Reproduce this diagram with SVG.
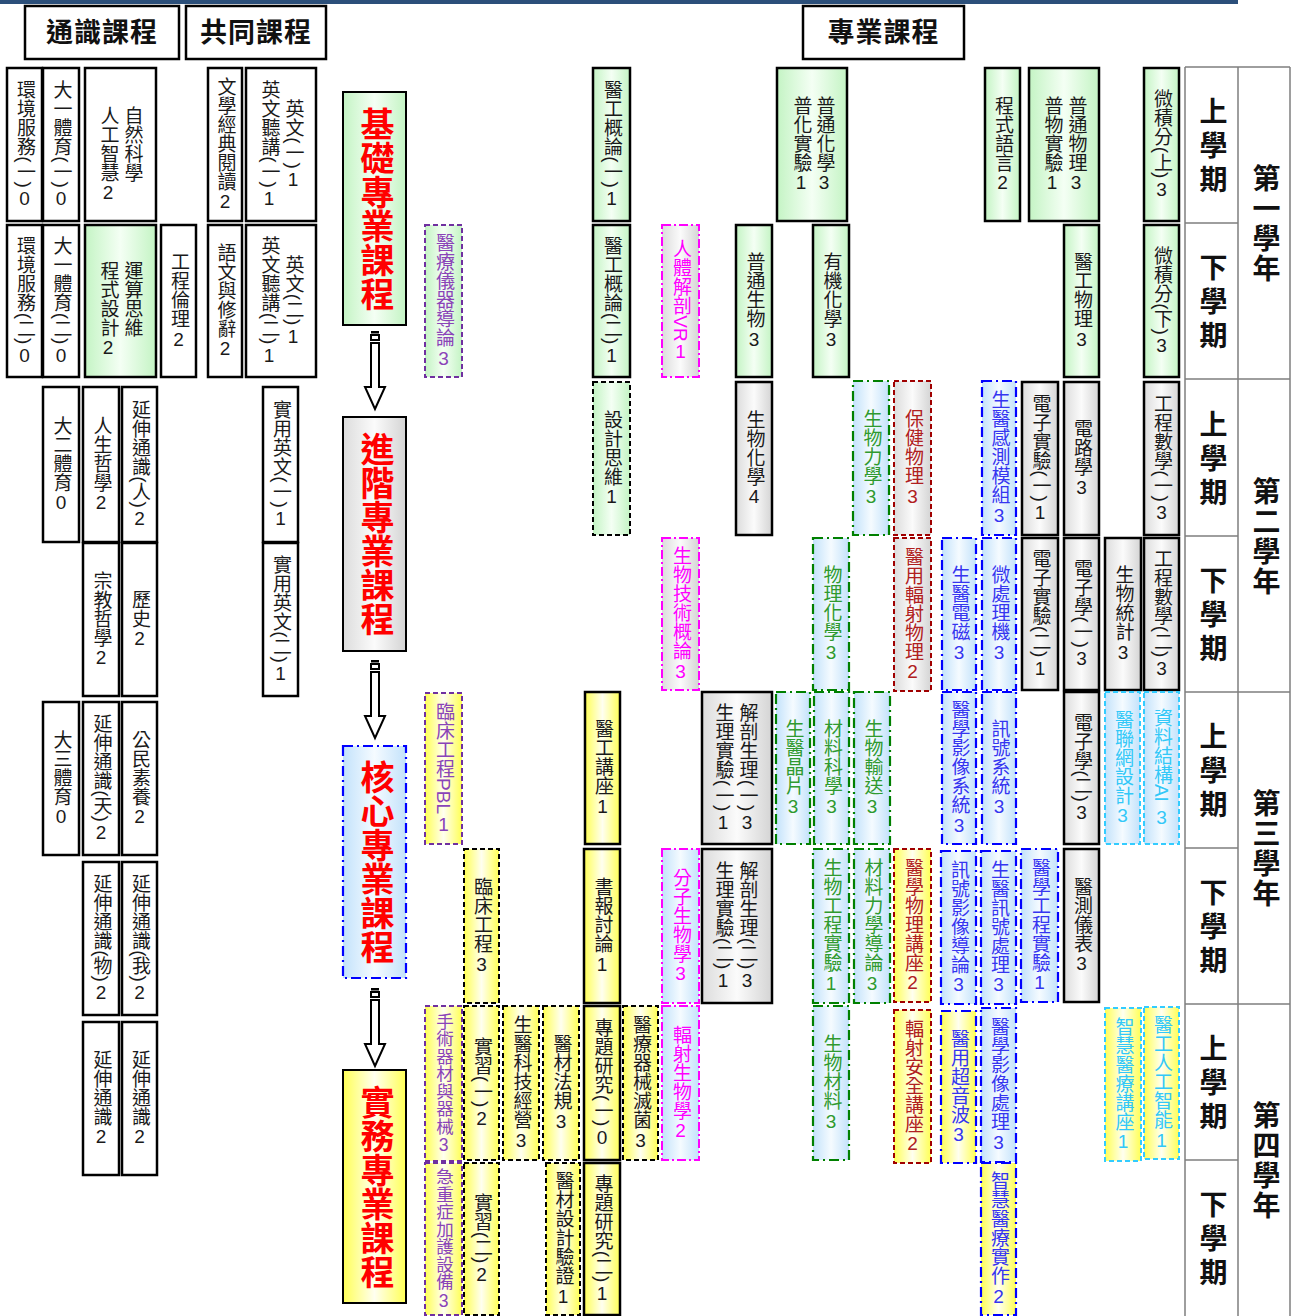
<svg xmlns="http://www.w3.org/2000/svg" width="1297" height="1316" viewBox="0 0 1297 1316">
<defs>
<linearGradient id="gG" x1="0" x2="1" y1="0" y2="0"><stop offset="0" stop-color="#c4f4c4"/><stop offset="0.5" stop-color="#f4fff4"/><stop offset="1" stop-color="#c4f4c4"/></linearGradient>
<linearGradient id="gY" x1="0" x2="1" y1="0" y2="0"><stop offset="0" stop-color="#ffff55"/><stop offset="0.5" stop-color="#fffff0"/><stop offset="1" stop-color="#ffff55"/></linearGradient>
<linearGradient id="gB" x1="0" x2="1" y1="0" y2="0"><stop offset="0" stop-color="#c3e2fb"/><stop offset="0.5" stop-color="#f5fbff"/><stop offset="1" stop-color="#c3e2fb"/></linearGradient>
<linearGradient id="gS" x1="0" x2="1" y1="0" y2="0"><stop offset="0" stop-color="#dcdcdc"/><stop offset="0.5" stop-color="#fbfbfb"/><stop offset="1" stop-color="#d4d4d4"/></linearGradient>
<style>
rect{stroke-width:2}
.k{stroke:#000;stroke-width:2.5}
.kd{stroke:#000;stroke-dasharray:5 3}
.pd{stroke:#7030a0;stroke-dasharray:5 3}
.md{stroke:#ff00ff;stroke-dasharray:9 3 2 3}
.gd{stroke:#008000;stroke-dasharray:10 4 2 4;stroke-width:2.2}
.bd{stroke:#0000ff;stroke-dasharray:10 4 2 4;stroke-width:2.2}
.rd{stroke:#a00000;stroke-dasharray:5 3}
.cd{stroke:#33ccff;stroke-dasharray:5 3}
.fw{fill:#fff}.fg{fill:url(#gG)}.fy{fill:url(#gY)}.fb{fill:url(#gB)}.fs{fill:url(#gS)}
.t{font-family:"Liberation Sans","Noto Sans CJK TC",sans-serif;font-size:19px;writing-mode:vertical-rl;text-anchor:middle;fill:#1a1a1a}
.s{text-anchor:start}
.sm{font-size:17.5px}
.u{text-orientation:upright}
.tp{fill:#8a44b8}.tm{fill:#ff00ff}.tg{fill:#2f9a2f}.tr{fill:#b02020}.tb{fill:#3535f0}.tc{fill:#33c8f8}
.cat{font-family:"Liberation Sans","Noto Sans CJK TC",sans-serif;font-size:34px;font-weight:bold;writing-mode:vertical-rl;text-anchor:middle;fill:#ff0000}
.hd{font-family:"Liberation Sans","Noto Sans CJK TC",sans-serif;font-size:27px;font-weight:bold;text-anchor:middle;fill:#111;letter-spacing:1px}
.sem{font-family:"Liberation Sans","Noto Sans CJK TC",sans-serif;font-size:28px;font-weight:bold;writing-mode:vertical-rl;text-anchor:middle;fill:#111;letter-spacing:6px}
.yr{font-family:"Liberation Sans","Noto Sans CJK TC",sans-serif;font-size:28px;font-weight:bold;writing-mode:vertical-rl;text-anchor:middle;fill:#111;letter-spacing:2px}
.gl{stroke:#7f7f7f;stroke-width:1.5;fill:none}
.arr{fill:#fff;stroke:#000;stroke-width:2}
</style>
</defs>
<rect x="0" y="0" width="1238" height="4" fill="#2b4f7a" stroke="none"/>

<g id="headers">
<g id="h-general"><rect class="k fw" x="25" y="6" width="154" height="53"/><text class="hd" x="102" y="42">通識課程</text></g>
<g id="h-common"><rect class="k fw" x="186" y="6" width="140" height="53"/><text class="hd" x="256" y="42">共同課程</text></g>
<g id="h-major"><rect class="k fw" x="803" y="6" width="161" height="53"/><text class="hd" x="883.5" y="42">專業課程</text></g>
</g>

<g id="semester-table">
<path class="gl" d="M1185,67 H1290 M1185,67 V1316 M1238,67 V1316 M1290,67 V1316 M1185,223 H1238 M1185,379 H1290 M1185,536 H1238 M1185,692 H1290 M1185,848 H1238 M1185,1004 H1290 M1185,1160 H1238"/>
<text class="sem" x="1211" y="148">上學期</text>
<text class="sem" x="1211" y="304">下學期</text>
<text class="sem" x="1211" y="461">上學期</text>
<text class="sem" x="1211" y="617">下學期</text>
<text class="sem" x="1211" y="773">上學期</text>
<text class="sem" x="1211" y="929">下學期</text>
<text class="sem" x="1211" y="1085">上學期</text>
<text class="sem" x="1211" y="1241">下學期</text>
<text class="yr" x="1264" y="224">第一學年</text>
<text class="yr" x="1264" y="537">第二學年</text>
<text class="yr" x="1264" y="849">第三學年</text>
<text class="yr" x="1264" y="1161">第四學年</text>
</g>

<g id="categories">
<g id="cat-basic"><rect class="fg" x="343" y="92" width="63" height="233" stroke="#000" stroke-width="3"/><text class="cat" x="375" y="209">基礎專業課程</text></g>
<g id="cat-advanced"><rect class="fs" x="343" y="417" width="63" height="234" stroke="#000" stroke-width="3"/><text class="cat" x="375" y="534">進階專業課程</text></g>
<g id="cat-core"><rect class="fb bd" x="343" y="746" width="63" height="232" stroke-width="2.5"/><text class="cat" x="375" y="862">核心專業課程</text></g>
<g id="cat-practice"><rect class="fy" x="343" y="1070" width="63" height="233" stroke="#000" stroke-width="3"/><text class="cat" x="375" y="1187">實務專業課程</text></g>
</g>

<g id="connectors">
<g id="arrow1"><rect x="371" y="331" width="8" height="2.5" fill="#000" stroke="none"/><rect class="arr" x="371" y="335" width="8" height="5"/><path class="arr" d="M371,343 V387 H365 L375,409 L385,387 H379 V343 Z"/></g>
<g id="arrow2"><rect x="371" y="660" width="8" height="2.5" fill="#000" stroke="none"/><rect class="arr" x="371" y="664" width="8" height="5"/><path class="arr" d="M371,672 V716 H365 L375,738 L385,716 H379 V672 Z"/></g>
<g id="arrow3"><rect x="371" y="988" width="8" height="2.5" fill="#000" stroke="none"/><rect class="arr" x="371" y="992" width="8" height="5"/><path class="arr" d="M371,1000 V1044 H365 L375,1066 L385,1044 H379 V1000 Z"/></g>
</g>

<g id="year1-upper">
<g id="c-env1"><rect class="k fw" x="7" y="68" width="35" height="153"/><text class="t" x="24.5" y="144.5">環境服務(一)<tspan class="u">0</tspan></text></g>
<g id="c-pe1a"><rect class="k fw" x="43" y="68" width="36" height="153"/><text class="t" x="61" y="144.5">大一體育(一)<tspan class="u">0</tspan></text></g>
<g id="c-natsci"><rect class="k fw" x="85" y="68" width="71" height="153"/><text class="t s" x="132" y="106">自然科學</text><text class="t s" x="108" y="106">人工智慧<tspan class="u">2</tspan></text></g>
<g id="c-lit"><rect class="k fw" x="208" y="68" width="34" height="153"/><text class="t" x="225" y="144.5">文學經典閱讀<tspan class="u">2</tspan></text></g>
<g id="c-eng1"><rect class="k fw" x="246" y="68" width="70" height="153"/><text class="t" x="293" y="144.5">英文(一)<tspan class="u">1</tspan></text><text class="t" x="269" y="144.5">英文聽講(一)<tspan class="u">1</tspan></text></g>
<g id="c-bme1"><rect class="k fg" x="593" y="68" width="37" height="153"/><text class="t" x="611.5" y="144.5">醫工概論(一)<tspan class="u">1</tspan></text></g>
<g id="c-chem"><rect class="k fg" x="777" y="68" width="70" height="153"/><text class="t" x="824" y="144.5">普通化學<tspan class="u">3</tspan></text><text class="t" x="801" y="144.5">普化實驗<tspan class="u">1</tspan></text></g>
<g id="c-prog"><rect class="k fg" x="985" y="68" width="35" height="153"/><text class="t" x="1002.5" y="144.5">程式語言<tspan class="u">2</tspan></text></g>
<g id="c-phys"><rect class="k fg" x="1029" y="68" width="70" height="153"/><text class="t" x="1076" y="144.5">普通物理<tspan class="u">3</tspan></text><text class="t" x="1052" y="144.5">普物實驗<tspan class="u">1</tspan></text></g>
<g id="c-calc1"><rect class="k fg" x="1144" y="68" width="35" height="153"/><text class="t" x="1161.5" y="144.5">微積分(上)<tspan class="u">3</tspan></text></g>
</g>

<g id="year1-lower">
<g id="c-env2"><rect class="k fw" x="7" y="225" width="35" height="152"/><text class="t" x="24.5" y="301">環境服務(二)<tspan class="u">0</tspan></text></g>
<g id="c-pe1b"><rect class="k fw" x="43" y="225" width="36" height="152"/><text class="t" x="61" y="301">大一體育(二)<tspan class="u">0</tspan></text></g>
<g id="c-ct"><rect class="k fg" x="85" y="225" width="71" height="152"/><text class="t s" x="132" y="261">運算思維</text><text class="t s" x="108" y="261">程式設計<tspan class="u">2</tspan></text></g>
<g id="c-ethic"><rect class="k fw" x="161" y="225" width="35" height="152"/><text class="t" x="178.5" y="301">工程倫理<tspan class="u">2</tspan></text></g>
<g id="c-rhet"><rect class="k fw" x="208" y="225" width="34" height="152"/><text class="t" x="225" y="301">語文與修辭<tspan class="u">2</tspan></text></g>
<g id="c-eng2"><rect class="k fw" x="246" y="225" width="70" height="152"/><text class="t" x="293" y="301">英文(二)<tspan class="u">1</tspan></text><text class="t" x="269" y="301">英文聽講(二)<tspan class="u">1</tspan></text></g>
<g id="c-medinst"><rect class="pd fg" x="425" y="225" width="37" height="152"/><text class="t tp" x="443.5" y="301">醫療儀器導論<tspan class="u">3</tspan></text></g>
<g id="c-bme2"><rect class="k fg" x="593" y="225" width="37" height="152"/><text class="t" x="611.5" y="301">醫工概論(二)<tspan class="u">1</tspan></text></g>
<g id="c-vr"><rect class="md fs" x="662" y="225" width="37" height="152"/><text class="t tm" x="680.5" y="301">人體解剖VR<tspan class="u">1</tspan></text></g>
<g id="c-bio"><rect class="k fg" x="736" y="225" width="36" height="152"/><text class="t" x="754" y="301">普通生物<tspan class="u">3</tspan></text></g>
<g id="c-orgchem"><rect class="k fg" x="813" y="225" width="36" height="152"/><text class="t" x="831" y="301">有機化學<tspan class="u">3</tspan></text></g>
<g id="c-bmephys"><rect class="k fg" x="1064" y="225" width="35" height="152"/><text class="t" x="1081.5" y="301">醫工物理<tspan class="u">3</tspan></text></g>
<g id="c-calc2"><rect class="k fg" x="1144" y="225" width="35" height="152"/><text class="t" x="1161.5" y="301">微積分(下)<tspan class="u">3</tspan></text></g>
</g>

<g id="year2-upper">
<g id="c-pe2"><rect class="k fw" x="43" y="387" width="36" height="155"/><text class="t" x="61" y="464.5">大二體育<tspan class="u">0</tspan></text></g>
<g id="c-philo"><rect class="k fw" x="83" y="387" width="36" height="155"/><text class="t" x="101" y="464.5">人生哲學<tspan class="u">2</tspan></text></g>
<g id="c-ext-ren"><rect class="k fw" x="122" y="387" width="35" height="155"/><text class="t" x="139.5" y="464.5">延伸通識(人)<tspan class="u">2</tspan></text></g>
<g id="c-peng1"><rect class="k fw" x="263" y="387" width="35" height="155"/><text class="t" x="280.5" y="464.5">實用英文(一)<tspan class="u">1</tspan></text></g>
<g id="c-design"><rect class="kd fg" x="593" y="382" width="37" height="153"/><text class="t" x="611.5" y="458.5">設計思維<tspan class="u">1</tspan></text></g>
<g id="c-biochem"><rect class="k fs" x="736" y="382" width="36" height="153"/><text class="t" x="754" y="458.5">生物化學<tspan class="u">4</tspan></text></g>
<g id="c-biomech"><rect class="gd fb" x="853" y="381" width="36" height="154"/><text class="t tg" x="871" y="458">生物力學<tspan class="u">3</tspan></text></g>
<g id="c-healthphys"><rect class="rd fs" x="894" y="381" width="37" height="154"/><text class="t tr" x="912.5" y="458">保健物理<tspan class="u">3</tspan></text></g>
<g id="c-sensor"><rect class="bd fb" x="982" y="381" width="34" height="154"/><text class="t tb" x="999" y="458">生醫感測模組<tspan class="u">3</tspan></text></g>
<g id="c-elab1"><rect class="k fs" x="1022" y="382" width="36" height="153"/><text class="t" x="1040" y="458.5">電子實驗(一)<tspan class="u">1</tspan></text></g>
<g id="c-circuit"><rect class="k fs" x="1064" y="382" width="35" height="153"/><text class="t" x="1081.5" y="458.5">電路學<tspan class="u">3</tspan></text></g>
<g id="c-engmath1"><rect class="k fs" x="1144" y="382" width="35" height="153"/><text class="t" x="1161.5" y="458.5">工程數學(一)<tspan class="u">3</tspan></text></g>
</g>

<g id="year2-lower">
<g id="c-relig"><rect class="k fw" x="83" y="543" width="36" height="153"/><text class="t" x="101" y="619.5">宗教哲學<tspan class="u">2</tspan></text></g>
<g id="c-hist"><rect class="k fw" x="122" y="543" width="35" height="153"/><text class="t" x="139.5" y="619.5">歷史<tspan class="u">2</tspan></text></g>
<g id="c-peng2"><rect class="k fw" x="263" y="543" width="35" height="153"/><text class="t" x="280.5" y="619.5">實用英文(二)<tspan class="u">1</tspan></text></g>
<g id="c-biotech"><rect class="md fs" x="662" y="538" width="37" height="152"/><text class="t tm" x="680.5" y="614">生物技術概論<tspan class="u">3</tspan></text></g>
<g id="c-physchem"><rect class="gd fb" x="813" y="538" width="36" height="152"/><text class="t tg" x="831" y="614">物理化學<tspan class="u">3</tspan></text></g>
<g id="c-radphys"><rect class="rd fs" x="894" y="538" width="37" height="153"/><text class="t tr" x="912.5" y="614.5">醫用輻射物理<tspan class="u">2</tspan></text></g>
<g id="c-em"><rect class="bd fb" x="942" y="538" width="34" height="152"/><text class="t tb" x="959" y="614">生醫電磁<tspan class="u">3</tspan></text></g>
<g id="c-micro"><rect class="bd fb" x="982" y="538" width="34" height="152"/><text class="t tb" x="999" y="614">微處理機<tspan class="u">3</tspan></text></g>
<g id="c-elab2"><rect class="k fs" x="1022" y="538" width="36" height="152"/><text class="t" x="1040" y="614">電子實驗(二)<tspan class="u">1</tspan></text></g>
<g id="c-elec1"><rect class="k fs" x="1064" y="538" width="35" height="152"/><text class="t" x="1081.5" y="614">電子學(一)<tspan class="u">3</tspan></text></g>
<g id="c-biostat"><rect class="k fs" x="1105" y="538" width="36" height="152"/><text class="t" x="1123" y="614">生物統計<tspan class="u">3</tspan></text></g>
<g id="c-engmath2"><rect class="k fs" x="1144" y="538" width="35" height="152"/><text class="t" x="1161.5" y="614">工程數學(二)<tspan class="u">3</tspan></text></g>
</g>

<g id="year3-upper">
<g id="c-pe3"><rect class="k fw" x="43" y="702" width="36" height="153"/><text class="t" x="61" y="778.5">大三體育<tspan class="u">0</tspan></text></g>
<g id="c-ext-tian"><rect class="k fw" x="83" y="702" width="36" height="153"/><text class="t" x="101" y="778.5">延伸通識(天)<tspan class="u">2</tspan></text></g>
<g id="c-civic"><rect class="k fw" x="122" y="702" width="35" height="153"/><text class="t" x="139.5" y="778.5">公民素養<tspan class="u">2</tspan></text></g>
<g id="c-pbl"><rect class="pd fy" x="425" y="693" width="37" height="151"/><text class="t tp" x="443.5" y="768.5">臨床工程PBL<tspan class="u">1</tspan></text></g>
<g id="c-seminar"><rect class="k fy" x="585" y="692" width="35" height="152"/><text class="t" x="602.5" y="768">醫工講座<tspan class="u">1</tspan></text></g>
<g id="c-anat1"><rect class="k fs" x="702" y="692" width="70" height="152"/><text class="t" x="747" y="768">解剖生理(一)<tspan class="u">3</tspan></text><text class="t" x="723" y="768">生理實驗(一)<tspan class="u">1</tspan></text></g>
<g id="c-chip"><rect class="gd fb" x="776" y="692" width="34" height="152"/><text class="t tg" x="793" y="768">生醫晶片<tspan class="u">3</tspan></text></g>
<g id="c-matsci"><rect class="gd fb" x="814" y="692" width="35" height="152"/><text class="t tg" x="831.5" y="768">材料科學<tspan class="u">3</tspan></text></g>
<g id="c-transport"><rect class="gd fb" x="854" y="692" width="36" height="152"/><text class="t tg" x="872" y="768">生物輸送<tspan class="u">3</tspan></text></g>
<g id="c-imgsys"><rect class="bd fb" x="942" y="692" width="34" height="152"/><text class="t tb" x="959" y="768">醫學影像系統<tspan class="u">3</tspan></text></g>
<g id="c-sigsys"><rect class="bd fb" x="982" y="692" width="34" height="152"/><text class="t tb" x="999" y="768">訊號系統<tspan class="u">3</tspan></text></g>
<g id="c-elec2"><rect class="k fs" x="1064" y="692" width="35" height="152"/><text class="t" x="1081.5" y="768">電子學(二)<tspan class="u">3</tspan></text></g>
<g id="c-iomt"><rect class="cd fb" x="1105" y="692" width="35" height="152"/><text class="t tc" x="1122.5" y="768">醫聯網設計<tspan class="u">3</tspan></text></g>
<g id="c-dsai"><rect class="cd fb" x="1144" y="692" width="35" height="152"/><text class="t tc" x="1161.5" y="768">資料結構AI <tspan class="u">3</tspan></text></g>
</g>

<g id="year3-lower">
<g id="c-ext-wu"><rect class="k fw" x="83" y="862" width="36" height="153"/><text class="t" x="101" y="938.5">延伸通識(物)<tspan class="u">2</tspan></text></g>
<g id="c-ext-wo"><rect class="k fw" x="122" y="862" width="35" height="153"/><text class="t" x="139.5" y="938.5">延伸通識(我)<tspan class="u">2</tspan></text></g>
<g id="c-clin"><rect class="kd fy" x="464" y="849" width="35" height="154"/><text class="t" x="481.5" y="926">臨床工程<tspan class="u">3</tspan></text></g>
<g id="c-journal"><rect class="k fy" x="584" y="849" width="36" height="154"/><text class="t" x="602" y="926">書報討論<tspan class="u">1</tspan></text></g>
<g id="c-molbio"><rect class="md fb" x="662" y="849" width="37" height="154"/><text class="t tm" x="680.5" y="926">分子生物學<tspan class="u">3</tspan></text></g>
<g id="c-anat2"><rect class="k fs" x="702" y="849" width="70" height="154"/><text class="t" x="747" y="926">解剖生理(二)<tspan class="u">3</tspan></text><text class="t" x="723" y="926">生理實驗(二)<tspan class="u">1</tspan></text></g>
<g id="c-bioenglab"><rect class="gd fb" x="813" y="849" width="36" height="154"/><text class="t tg" x="831" y="926">生物工程實驗<tspan class="u">1</tspan></text></g>
<g id="c-matmech"><rect class="gd fb" x="854" y="849" width="36" height="154"/><text class="t tg" x="872" y="926">材料力學導論<tspan class="u">3</tspan></text></g>
<g id="c-medphysem"><rect class="rd fy" x="894" y="849" width="37" height="153"/><text class="t tr" x="912.5" y="925.5">醫學物理講座<tspan class="u">2</tspan></text></g>
<g id="c-sigimg"><rect class="bd fb" x="941" y="851" width="35" height="153"/><text class="t tb" x="958.5" y="927.5">訊號影像導論<tspan class="u">3</tspan></text></g>
<g id="c-biosig"><rect class="bd fb" x="981" y="851" width="35" height="153"/><text class="t tb" x="998.5" y="927.5">生醫訊號處理<tspan class="u">3</tspan></text></g>
<g id="c-bmelab"><rect class="bd fb" x="1021" y="849" width="37" height="153"/><text class="t tb" x="1039.5" y="925.5">醫學工程實驗<tspan class="u">1</tspan></text></g>
<g id="c-meas"><rect class="k fs" x="1064" y="849" width="35" height="153"/><text class="t" x="1081.5" y="925.5">醫測儀表<tspan class="u">3</tspan></text></g>
</g>

<g id="year4-upper">
<g id="c-ext1"><rect class="k fw" x="83" y="1022" width="36" height="153"/><text class="t" x="101" y="1098.5">延伸通識<tspan class="u">2</tspan></text></g>
<g id="c-ext2"><rect class="k fw" x="122" y="1022" width="35" height="153"/><text class="t" x="139.5" y="1098.5">延伸通識<tspan class="u">2</tspan></text></g>
<g id="c-surg"><rect class="pd fy" x="425" y="1006" width="37" height="155"/><text class="t sm tp" x="443.5" y="1083.5">手術器材與器械<tspan class="u">3</tspan></text></g>
<g id="c-intern1"><rect class="kd fy" x="464" y="1006" width="35" height="154"/><text class="t" x="481.5" y="1083">實習(一)<tspan class="u">2</tspan></text></g>
<g id="c-biz"><rect class="kd fy" x="503" y="1006" width="36" height="154"/><text class="t" x="521" y="1083">生醫科技經營<tspan class="u">3</tspan></text></g>
<g id="c-reg"><rect class="kd fy" x="543" y="1006" width="36" height="154"/><text class="t" x="561" y="1083">醫材法規<tspan class="u">3</tspan></text></g>
<g id="c-proj1"><rect class="k fy" x="584" y="1006" width="36" height="154"/><text class="t" x="602" y="1083">專題研究(一)<tspan class="u">0</tspan></text></g>
<g id="c-steril"><rect class="kd fy" x="623" y="1006" width="35" height="154"/><text class="t" x="640.5" y="1083">醫療器械滅菌<tspan class="u">3</tspan></text></g>
<g id="c-radbio"><rect class="md fb" x="662" y="1006" width="37" height="154"/><text class="t tm" x="680.5" y="1083">輻射生物學<tspan class="u">2</tspan></text></g>
<g id="c-biomat"><rect class="gd fb" x="813" y="1006" width="36" height="154"/><text class="t tg" x="831" y="1083">生物材料<tspan class="u">3</tspan></text></g>
<g id="c-radsafe"><rect class="rd fy" x="894" y="1010" width="37" height="153"/><text class="t tr" x="912.5" y="1086.5">輻射安全講座<tspan class="u">2</tspan></text></g>
<g id="c-us"><rect class="bd fy" x="941" y="1011" width="35" height="152"/><text class="t tb" x="958.5" y="1087">醫用超音波<tspan class="u">3</tspan></text></g>
<g id="c-imgproc"><rect class="bd fb" x="981" y="1008" width="35" height="154"/><text class="t tb" x="998.5" y="1085">醫學影像處理<tspan class="u">3</tspan></text></g>
<g id="c-smartsem"><rect class="cd fy" x="1105" y="1008" width="36" height="153"/><text class="t tc" x="1123" y="1084.5">智慧醫療講座<tspan class="u">1</tspan></text></g>
<g id="c-ai"><rect class="cd fy" x="1144" y="1007" width="35" height="152"/><text class="t tc" x="1161.5" y="1083">醫工人工智能<tspan class="u">1</tspan></text></g>
</g>

<g id="year4-lower">
<g id="c-icu"><rect class="pd fy" x="425" y="1163" width="37" height="152"/><text class="t sm tp" x="443.5" y="1239">急重症加護設備<tspan class="u">3</tspan></text></g>
<g id="c-intern2"><rect class="kd fy" x="464" y="1163" width="35" height="152"/><text class="t" x="481.5" y="1239">實習(二)<tspan class="u">2</tspan></text></g>
<g id="c-verif"><rect class="kd fy" x="546" y="1163" width="34" height="152"/><text class="t" x="563" y="1239">醫材設計驗證<tspan class="u">1</tspan></text></g>
<g id="c-proj2"><rect class="k fy" x="584" y="1163" width="36" height="152"/><text class="t" x="602" y="1239">專題研究(二)<tspan class="u">1</tspan></text></g>
<g id="c-smartprac"><rect class="bd fy" x="981" y="1163" width="35" height="152"/><text class="t tb" x="998.5" y="1239">智慧醫療實作<tspan class="u">2</tspan></text></g>
</g>
</svg>
